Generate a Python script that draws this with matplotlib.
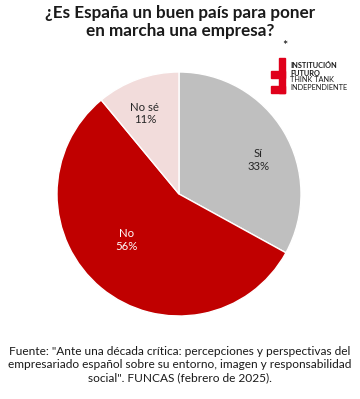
import matplotlib
matplotlib.use("Agg")
import matplotlib.pyplot as plt
from matplotlib.patches import Rectangle

categories = ["Sí", "No", "No sé"]
values = [33, 56, 11]
colors = ["#bfbfbf", "#c00000", "#f2dcdb"]
label_colors = ["#262626", "white", "#262626"]

W, H = 360, 399
fig = plt.figure(figsize=(W/100, H/100), dpi=100)
fig.patch.set_facecolor("white")

font = ["Lato", "DejaVu Sans"]

# Pie axes
cx, cy, R = 179, 194, 122
ax = fig.add_axes([(cx-R)/W, (H-cy-R)/H, 2*R/W, 2*R/H])
wedges, _ = ax.pie(values, colors=colors, startangle=90, counterclock=False,
                   wedgeprops=dict(edgecolor="white", linewidth=1.0))
ax.set_xlim(-1, 1); ax.set_ylim(-1, 1)
ax.set_aspect("auto")
ax.axis("off")

label_pos = [(0.65, 0.28), (-0.43, -0.38), (-0.28, 0.66)]
for cat, v, (x, y), c in zip(categories, values, label_pos, label_colors):
    ax.text(x, y, f"{cat}\n{v}%", ha="center", va="center", color=c,
            fontsize=8.2, family=font, linespacing=1.2)

# Title
fig.text(0.5, 1 - 22/H, "¿Es España un buen país para poner\nen marcha una empresa?",
         ha="center", va="center", fontsize=12.3, fontweight="bold",
         family=font, color="#1a1a1a", linespacing=1.1)

# Footnote
fig.text(0.5, 1 - 365/H,
         "Fuente: \"Ante una década crítica: percepciones y perspectivas del\n"
         "empresariado español sobre su entorno, imagen y responsabilidad\n"
         "social\". FUNCAS (febrero de 2025).",
         ha="center", va="center", fontsize=8.6, family=font, color="#1a1a1a",
         linespacing=1.25)

# Logo
lax = fig.add_axes([0, 0, 1, 1], zorder=5)
lax.set_xlim(0, W); lax.set_ylim(H, 0); lax.axis("off")
red = "#e0001b"
lax.add_patch(Rectangle((279, 58), 6, 35, color=red))
lax.add_patch(Rectangle((271, 71), 14, 6.5, color=red))
lax.add_patch(Rectangle((271, 86), 14, 7, color=red))
lax.text(285, 46, "*", ha="center", va="center", fontsize=9, color="black", family=font)
lines = [("INSTITUCIÓN", "bold"), ("FUTURO", "bold"), ("THINK TANK", "normal"), ("INDEPENDIENTE", "normal")]
for i, (t, w) in enumerate(lines):
    lax.text(290, 66 + i*7, t, ha="left", va="center", fontsize=5.3,
             fontweight=w, family=font, color="#1a1a1a")

fig.savefig("out.png", dpi=100, facecolor="white")
